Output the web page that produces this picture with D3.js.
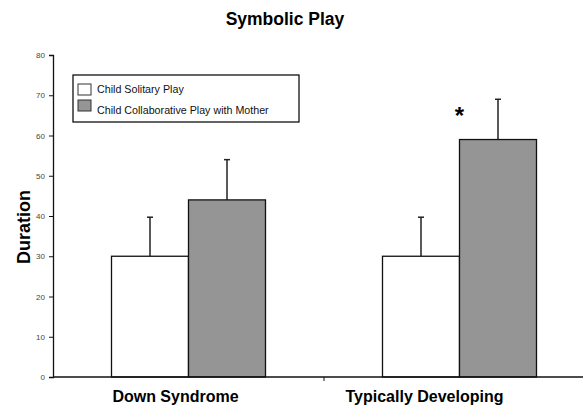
<!DOCTYPE html>
<html>
<head>
<meta charset="utf-8">
<script src="https://cdn.jsdelivr.net/npm/d3@7"></script>
<style>
  body { margin: 0; background: #fff; }
  svg { display: block; font-family: "Liberation Sans", Arial, sans-serif; }
</style>
</head>
<body>
<div id="chart"></div>
<script>
// Symbolic play durations by group
const groups = ['Down Syndrome', 'Typically Developing'];
const seriesNames = ['Child Solitary Play', 'Child Collaborative Play with Mother'];
const solitary = [30, 30];
const solitaryErr = [9.7, 9.7];
const collaborative = [44, 59];
const collaborativeErr = [10, 10];
const yTicks = [0, 10, 20, 30, 40, 50, 60, 70, 80];
const significant = [false, true];

const width = 583, height = 406;
const colors = ['#ffffff', '#959595'];
const labelShift = [-13, -35]; // category labels sit a bit left of the group centre

const svg = d3.select('#chart').append('svg').attr('width', width).attr('height', height);

const y = d3.scaleLinear().domain([0, 80]).range([377, 55]);
const x0 = d3.scaleBand().domain(groups).range([53, 595]).paddingInner(0).paddingOuter(0);
const x1 = d3.scaleBand().domain([0, 1]).range([0, 154]);
const groupOffset = (x0.bandwidth() - 154) / 2;

// title
svg.append('text').attr('x', 285).attr('y', 25).attr('text-anchor', 'middle')
  .attr('font-size', 17.5).attr('font-weight', 'bold').text('Symbolic Play');

// y axis
const yAxis = svg.append('g').attr('transform', 'translate(53,0)')
  .call(d3.axisLeft(y).tickValues(yTicks).tickSize(4).tickPadding(4));
yAxis.select('.domain').attr('stroke', '#111').attr('stroke-width', 1.3);
yAxis.selectAll('.tick line').attr('stroke', '#111');
yAxis.selectAll('.tick text').attr('font-size', 8).attr('fill', '#444')
  .attr('font-family', '"Liberation Sans Narrow", "Liberation Sans", Arial, sans-serif');

svg.append('text').attr('transform', 'translate(30,227) rotate(-90)')
  .attr('text-anchor', 'middle').attr('font-size', 18).attr('font-weight', 'bold').text('Duration');

// bars
const rows = groups.map((g, i) => ({
  group: g,
  vals: [
    { s: 0, v: solitary[i], e: solitaryErr[i] },
    { s: 1, v: collaborative[i], e: collaborativeErr[i] }
  ],
  sig: significant[i]
}));

const gg = svg.selectAll('g.grp').data(rows).enter().append('g').attr('class', 'grp')
  .attr('transform', d => `translate(${x0(d.group) + groupOffset},0)`);

// error bars (behind bars)
gg.selectAll('g.err').data(d => d.vals).enter().append('g').attr('class', 'err').each(function (d) {
  const cx = x1(d.s) + x1.bandwidth() / 2;
  const g = d3.select(this);
  g.append('line').attr('x1', cx).attr('x2', cx).attr('y1', y(d.v)).attr('y2', y(d.v + d.e))
    .attr('stroke', '#222').attr('stroke-width', 1.5);
  g.append('line').attr('x1', cx - 3).attr('x2', cx + 3).attr('y1', y(d.v + d.e)).attr('y2', y(d.v + d.e))
    .attr('stroke', '#222').attr('stroke-width', 1.5);
});

gg.selectAll('rect').data(d => d.vals).enter().append('rect')
  .attr('x', d => x1(d.s)).attr('width', x1.bandwidth())
  .attr('y', d => y(d.v)).attr('height', d => y(0) - y(d.v))
  .attr('fill', d => colors[d.s]).attr('stroke', '#111').attr('stroke-width', 1.3);

gg.filter(d => d.sig).append('text')
  .attr('x', x1(0) + x1.bandwidth()).attr('y', d => y(d.vals[1].v + d.vals[1].e) + 25)
  .attr('text-anchor', 'middle').attr('font-size', 24).attr('font-weight', 'bold').text('*');

// x axis
svg.append('line').attr('x1', 53).attr('x2', width).attr('y1', y(0)).attr('y2', y(0))
  .attr('stroke', '#111').attr('stroke-width', 1.3);
svg.append('line').attr('x1', x0('Typically Developing')).attr('x2', x0('Typically Developing'))
  .attr('y1', y(0)).attr('y2', y(0) + 4).attr('stroke', '#111');
svg.selectAll('text.cat').data(groups).enter().append('text').attr('class', 'cat')
  .attr('x', (d, i) => x0(d) + x0.bandwidth() / 2 + labelShift[i]).attr('y', 402).attr('text-anchor', 'middle')
  .attr('font-size', 16).attr('font-weight', 'bold').text(d => d);

// legend
const lg = svg.append('g').attr('transform', 'translate(73,75)');
lg.append('rect').attr('width', 226).attr('height', 47).attr('fill', '#fff')
  .attr('stroke', '#111').attr('stroke-width', 1.3);
seriesNames.forEach((n, i) => {
  lg.append('rect').attr('x', 5).attr('y', 9 + i * 16).attr('width', 13).attr('height', 11)
    .attr('fill', colors[i]).attr('stroke', '#333');
  lg.append('text').attr('x', 24).attr('y', 18 + i * 21).attr('font-size', 10.7).attr('fill', '#111').text(n);
});
</script>
</body>
</html>
